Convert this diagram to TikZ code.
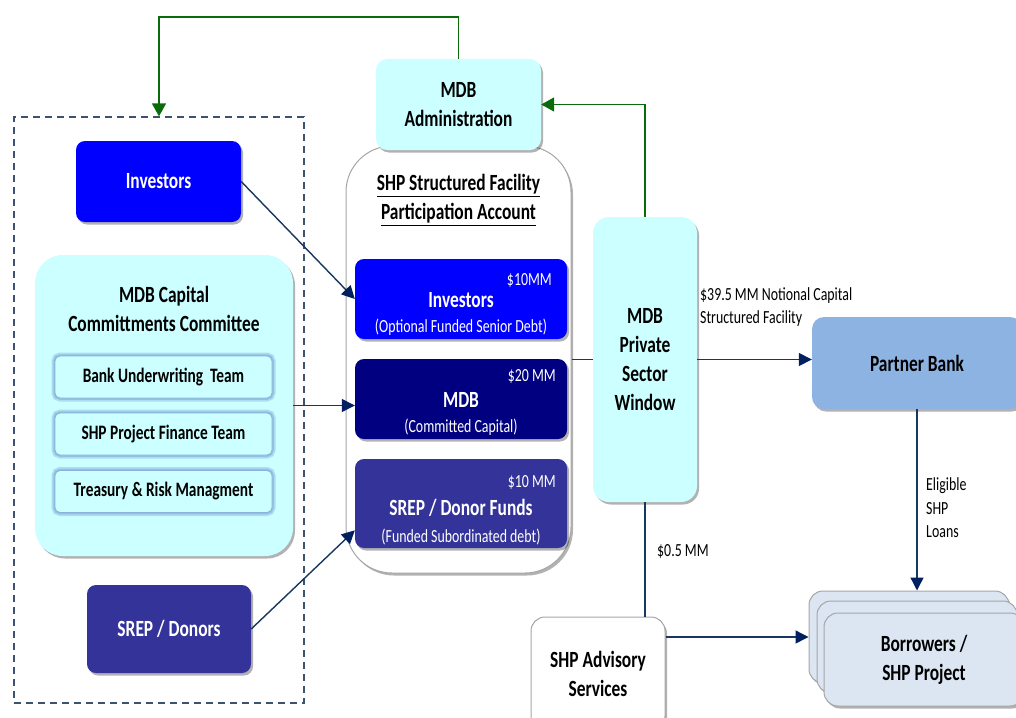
\documentclass[tikz,border=0pt]{standalone}
\usepackage{fontspec}
\setmainfont{Carlito}[FakeStretch=0.75]
\usetikzlibrary{shadows,arrows.meta,calc}

\definecolor{cyanf}{HTML}{CCFFFF}
\definecolor{bluef}{HTML}{0000FF}
\definecolor{navyf}{HTML}{000080}
\definecolor{purplef}{HTML}{333399}
\definecolor{bankf}{HTML}{8DB3E2}
\definecolor{borrf}{HTML}{DCE6F2}
\definecolor{linec}{HTML}{17375E}
\definecolor{tipc}{HTML}{002060}
\definecolor{greenc}{HTML}{0A6B0A}
\definecolor{grayb}{HTML}{A6A6A6}
\definecolor{glowc}{HTML}{6F9FD3}
\definecolor{dashc}{HTML}{3B5270}

\begin{document}
\begin{tikzpicture}[x=1pt,y=-1pt,
  shbox/.style={drop shadow={shadow xshift=2pt,shadow yshift=-2.5pt,opacity=0.3,fill=black}},
  bigtxt/.style={font=\bfseries\fontsize{23.2}{29}\selectfont},
  midtxt/.style={font=\bfseries\fontsize{20.5}{25}\selectfont},
  smalltxt/.style={font=\fontsize{18.5}{23.5}\selectfont},
  plainbox/.style={shape=rectangle,inner sep=0pt,align=center},
  cyanbox/.style={plainbox,shbox,fill=cyanf,bigtxt,text=black},
  darkbox/.style={plainbox,shbox,rounded corners=9pt,bigtxt,text=white},
  teambox/.style={plainbox,fill=cyanf,rounded corners=5pt,draw=glowc!80,line width=0.8pt,
    preaction={draw=glowc,line width=7pt,opacity=0.35},
    preaction={draw=glowc,line width=3.5pt,opacity=0.45},midtxt,
    minimum width=217pt,minimum height=42pt},
  graybox/.style={plainbox,shbox,fill=white,draw=grayb,line width=1pt,bigtxt},
  flow/.style={draw=linec,line width=1.4pt,-{Triangle[length=13pt,width=13pt,fill=tipc,color=tipc]}},
  plainflow/.style={draw=linec,line width=1.4pt},
  gflow/.style={draw=greenc,line width=1.6pt,-{Triangle[length=13pt,width=14pt,fill=greenc,color=greenc]}},
  amt/.style={inner sep=0pt,text=white,font=\fontsize{18.5}{22}\selectfont},
  lbl/.style={inner sep=0pt,align=left,smalltxt}
]
\useasboundingbox (0,0) rectangle (1016,717);

% dashed group around the funding sources
\node[plainbox,draw=dashc,line width=1.3pt,dash pattern=on 7pt off 5pt,
      minimum width=290pt,minimum height=586pt] (grp) at (159,410) {};

% facility account container (drawn before the administration box on top of it)
\node[graybox,rounded corners=46pt,minimum width=225pt,minimum height=427pt] (acct) at (458.5,359.5) {};
\node[inner sep=0pt,align=center,bigtxt] (accttitle) at (458.5,200)
  {\underline{SHP Structured Facility}\\\underline{Participation Account}};

% tranches inside the account
\node[darkbox,fill=bluef,minimum width=212pt,minimum height=80pt] (fi) at (461,299) {};
\node[darkbox,fill=navyf,minimum width=212pt,minimum height=80pt] (fm) at (461,399) {};
\node[darkbox,fill=purplef,minimum width=212pt,minimum height=89pt] (fs) at (461,503.5) {};

\node[amt,anchor=base east] (fiamt) at (552,285) {\$10MM};
\node[inner sep=0pt,text=white,bigtxt,anchor=base] (fitxt) at (461,307) {Investors};
\node[amt,anchor=base] (fisub) at (461,332) {(Optional Funded Senior Debt)};

\node[amt,anchor=base east] (fmamt) at (556,381) {\$20 MM};
\node[inner sep=0pt,text=white,bigtxt,anchor=base] (fmtxt) at (461,407) {MDB};
\node[amt,anchor=base] (fmsub) at (461,432) {(Committed Capital)};

\node[amt,anchor=base east] (fsamt) at (556,487) {\$10 MM};
\node[inner sep=0pt,text=white,bigtxt,anchor=base] (fstxt) at (461,515) {SREP / Donor Funds};
\node[amt,anchor=base] (fssub) at (461,542) {(Funded Subordinated debt)};

% administration
\node[cyanbox,rounded corners=11pt,minimum width=165pt,minimum height=91pt] (admin) at (458.5,104.5) {MDB\\Administration};

% left column
\node[darkbox,fill=bluef,minimum width=165pt,minimum height=81pt] (inv) at (158.5,181.5) {Investors};
\node[cyanbox,rounded corners=28pt,minimum width=258pt,minimum height=301pt] (comm) at (164,405.5) {};
\node[inner sep=0pt,align=center,bigtxt] (commtitle) at (164,309) {MDB Capital\\Committments Committee};
\node[teambox] (t1) at (163.5,377) {Bank Underwriting\ \ Team};
\node[teambox] (t2) at (163.5,434) {SHP Project Finance Team};
\node[teambox] (t3) at (163.5,491.5) {Treasury \& Risk Managment};
\node[darkbox,fill=purplef,minimum width=164pt,minimum height=88pt] (srep) at (169,629) {SREP / Donors};

% right side
\node[cyanbox,rounded corners=16pt,minimum width=104pt,minimum height=285pt] (win) at (645,359.5) {MDB\\Private\\Sector\\Window};
\node[plainbox,shbox,fill=bankf,rounded corners=12pt,bigtxt,minimum width=210pt,minimum height=92pt] (pb) at (917,363) {Partner Bank};
\node[graybox,rounded corners=14pt,minimum width=134pt,minimum height=113pt] (adv) at (598,673.5) {SHP Advisory\\Services};

% stacked borrowers
\node[graybox,fill=borrf,rounded corners=14pt,minimum width=200pt,minimum height=92pt] (b3) at (909,637) {};
\node[graybox,fill=borrf,rounded corners=14pt,minimum width=200pt,minimum height=92pt] (b2) at (917,647) {};
\node[graybox,fill=borrf,rounded corners=14pt,minimum width=200pt,minimum height=93pt] (b1) at (924,659.5) {Borrowers /\\SHP Project};

% connectors
\draw[gflow] (admin.north) -- ++(0,-42) coordinate (gtop) -| (grp.north);
\draw[gflow] (win.north) |- (admin.east);
\draw[flow] (inv.east) -- (fi.west);
\draw[flow] (comm.east) -- (comm.east -| fm.west);
\draw[flow] (srep.east) -- ($(fs.west)!0.6!(fs.south west)$);
\draw[plainflow] (acct.east) -- (win.west);
\draw[flow] (win.east) -- (win.east -| pb.west);
\draw[plainflow] (win.south) -- (win.south |- adv.north);
\draw[flow] (b3.west -| adv.east) -- (b3.west);
\draw[flow] (pb.south) -- (pb.south |- b3.north);

% labels
\node[lbl,anchor=west] (capl) at (700,307) {\$39.5 MM Notional Capital\\Structured Facility};
\node[lbl,anchor=west] (advl) at (657,552) {\$0.5 MM};
\node[lbl,anchor=west] (loanl) at (926,508) {Eligible\\SHP\\Loans};
\end{tikzpicture}
\end{document}
